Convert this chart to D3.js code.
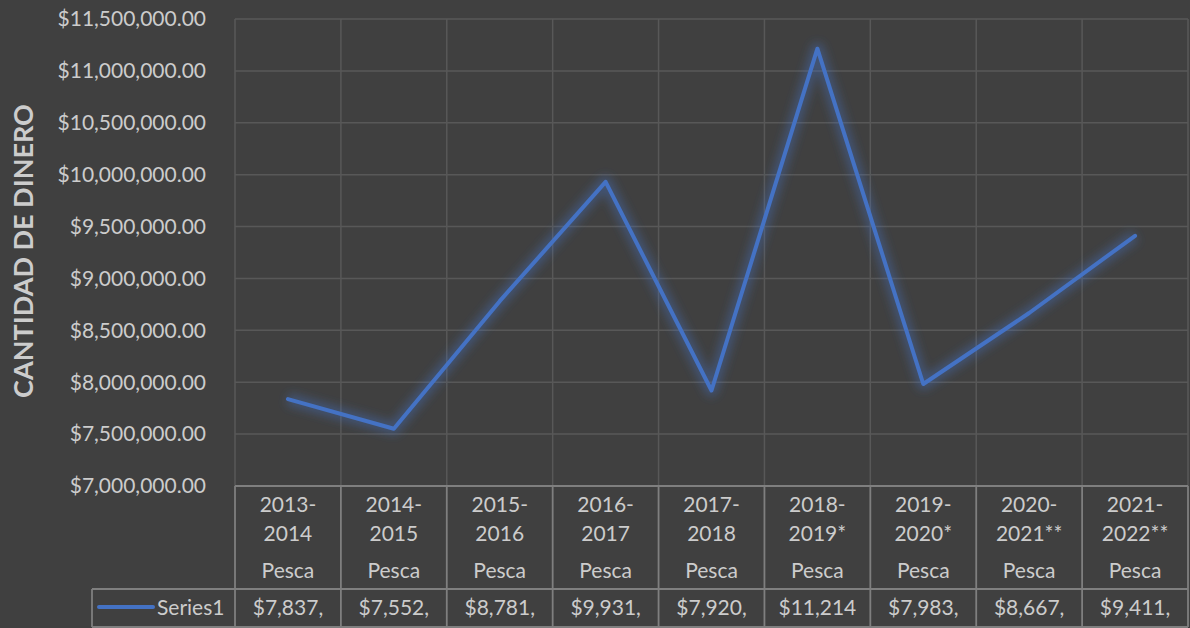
<!DOCTYPE html>
<html><head><meta charset="utf-8">
<script src="https://cdn.jsdelivr.net/npm/d3@7"></script>
<style>
html,body{margin:0;padding:0;background:#404040;}
svg{display:block;font-family:Lato,"Open Sans",sans-serif;}
</style></head>
<body><svg id="c" width="1190" height="628"></svg>
<script>
const periods = ["2013-2014","2014-2015","2015-2016","2016-2017","2017-2018","2018-2019*","2019-2020*","2020-2021**","2021-2022**"];
const sector = ["Pesca","Pesca","Pesca","Pesca","Pesca","Pesca","Pesca","Pesca","Pesca"];
const values = [7837000, 7552000, 8781000, 9931000, 7920000, 11214000, 7983000, 8667000, 9411000];
const yTicks = [7000000, 7500000, 8000000, 8500000, 9000000, 9500000, 10000000, 10500000, 11000000, 11500000];
const seriesName = "Series1";
const yTitle = "CANTIDAD DE DINERO";

(function(){
const svg = d3.select("#c");
const W = 1190, H = 628;
const pL = 235, pR = 1188, pT = 19, pB = 486;
const tableBottom = 627, rowSplit = 589;
const textCol = "#cccccc", gridCol = "#585858", borderCol = "#7f7f7f", lineCol = "#4472c4";
const fs = 21;

svg.append("rect").attr("width", W).attr("height", H).attr("fill", "#404040");

const x = d3.scaleBand().domain(periods).range([pL, pR]).padding(0);
const y = d3.scaleLinear().domain([7000000, 11500000]).range([pB, pT]);

const defs = svg.append("defs");
const f = defs.append("filter").attr("id", "glow").attr("x", "-20%").attr("y", "-20%").attr("width", "140%").attr("height", "140%");
f.append("feGaussianBlur").attr("stdDeviation", 5);

const g = svg.append("g");
g.selectAll(".hg").data(yTicks).join("line")
  .attr("x1", pL).attr("x2", pR).attr("y1", d => y(d)).attr("y2", d => y(d))
  .attr("stroke", gridCol).attr("stroke-width", 1.5);
const vx = periods.map(p => x(p)).concat([pR]);
g.selectAll(".vg").data(vx).join("line")
  .attr("x1", d => d).attr("x2", d => d).attr("y1", pT).attr("y2", pB)
  .attr("stroke", gridCol).attr("stroke-width", 1.5);

const fmt = d3.format("$,.2f");
svg.append("g").selectAll("text").data(yTicks).join("text")
  .attr("x", 206).attr("y", d => y(d)).attr("dy", "0.35em")
  .attr("text-anchor", "end").attr("fill", textCol).attr("font-size", fs)
  .text(d => fmt(d));

svg.append("text").attr("transform", `translate(23,251) rotate(-90)`)
  .attr("text-anchor", "middle").attr("fill", "#cccccc").attr("font-size", 27).attr("font-weight", "bold")
  .attr("dy", "0.36em").text(yTitle);

const line = d3.line().x((d, i) => x(periods[i]) + x.bandwidth() / 2).y(d => y(d));
svg.append("path").datum(values).attr("d", line).attr("fill", "none")
  .attr("stroke", lineCol).attr("stroke-width", 12).attr("stroke-opacity", 0.4)
  .attr("stroke-linejoin", "round").attr("filter", "url(#glow)");
svg.append("path").datum(values).attr("d", line).attr("fill", "none")
  .attr("stroke", lineCol).attr("stroke-width", 4).attr("stroke-linejoin", "round").attr("stroke-linecap", "round");

const t = svg.append("g");
const bw = 1.8;
t.append("line").attr("x1", pL).attr("x2", pR).attr("y1", pB).attr("y2", pB).attr("stroke", borderCol).attr("stroke-width", bw);
t.append("line").attr("x1", 92).attr("x2", pR).attr("y1", rowSplit).attr("y2", rowSplit).attr("stroke", borderCol).attr("stroke-width", bw);
t.append("line").attr("x1", 92).attr("x2", pR).attr("y1", tableBottom).attr("y2", tableBottom).attr("stroke", borderCol).attr("stroke-width", bw);
t.selectAll(".vb").data(vx).join("line")
  .attr("x1", d => d).attr("x2", d => d).attr("y1", pB).attr("y2", tableBottom)
  .attr("stroke", borderCol).attr("stroke-width", bw);
t.append("line").attr("x1", 92).attr("x2", 92).attr("y1", rowSplit).attr("y2", tableBottom).attr("stroke", borderCol).attr("stroke-width", bw);

const cx = p => x(p) + x.bandwidth() / 2;
t.selectAll(".l1").data(periods).join("text")
  .attr("x", cx).attr("y", 505).attr("dy", "0.35em").attr("text-anchor", "middle")
  .attr("fill", textCol).attr("font-size", fs).text(d => d.split("-")[0] + "-");
t.selectAll(".l2").data(periods).join("text")
  .attr("x", cx).attr("y", 534).attr("dy", "0.35em").attr("text-anchor", "middle")
  .attr("fill", textCol).attr("font-size", fs).text(d => d.split("-")[1]);
t.selectAll(".l3").data(sector).join("text")
  .attr("x", (d, i) => cx(periods[i])).attr("y", 571).attr("dy", "0.35em").attr("text-anchor", "middle")
  .attr("fill", textCol).attr("font-size", fs).text(d => d);
const vt = t.selectAll(".l4").data(values).join("text")
  .attr("x", (d, i) => cx(periods[i])).attr("y", 608).attr("dy", "0.35em").attr("text-anchor", "middle")
  .attr("fill", textCol).attr("font-size", fs).text(d => fmt(d));
const maxW = x.bandwidth() - 25;
vt.each(function(d) {
  const el = this; let s = fmt(d);
  while (s.length > 1 && el.getComputedTextLength() > maxW) {
    s = s.slice(0, -1); el.textContent = s;
  }
});

t.append("line").attr("x1", 99).attr("x2", 153).attr("y1", 607).attr("y2", 607)
  .attr("stroke", lineCol).attr("stroke-width", 4).attr("stroke-linecap", "round");
t.append("text").attr("x", 157).attr("y", 608).attr("dy", "0.35em").attr("fill", textCol)
  .attr("font-size", fs).text(seriesName);
})();
</script></body></html>
